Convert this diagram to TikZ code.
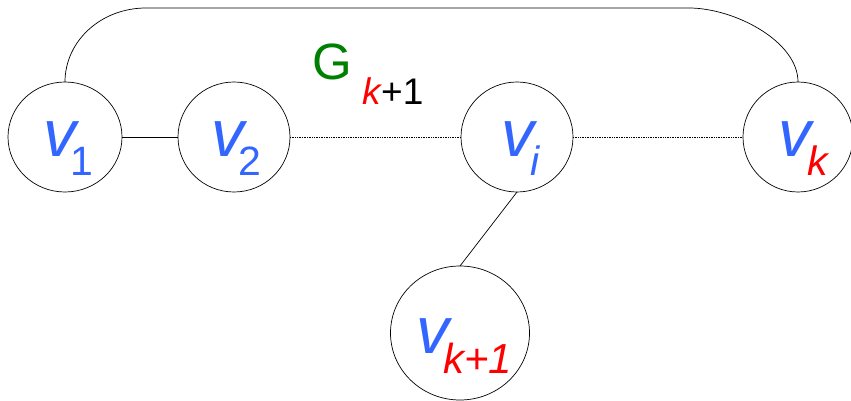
\documentclass[tikz,border=0pt]{standalone}
\usepackage{fontspec}
\setmainfont{Liberation Sans}
\usetikzlibrary{shapes.geometric}
\definecolor{vblue}{RGB}{51,102,255}
\definecolor{vred}{RGB}{255,0,0}
\definecolor{ggreen}{RGB}{0,128,0}
\newcommand{\bigv}{{\fontsize{66}{66}\selectfont\itshape v}}
\newcommand{\subtx}[1]{\raisebox{-19pt}{\fontsize{41}{41}\selectfont #1}}
\begin{document}
\begin{tikzpicture}[x=1pt,y=-1pt,
  vert/.style={ellipse,draw,line width=0.7pt,inner sep=0pt,outer sep=0pt},
  edge/.style={line width=0.7pt},
  dotedge/.style={line width=0.7pt,densely dotted},
  lab/.style={anchor=base west,inner sep=0pt,outer sep=0pt,text=vblue}]
\useasboundingbox (0,0) rectangle (851,401);
\node[vert,minimum width=114pt,minimum height=110pt] (v1) at (65,137) {};
\node[vert,minimum width=112pt,minimum height=110pt] (v2) at (234,137) {};
\node[vert,minimum width=112pt,minimum height=110pt] (vi) at (517,137) {};
\node[vert,minimum width=110pt,minimum height=110pt] (vk) at (798,137) {};
\node[vert,minimum width=139pt,minimum height=134pt] (vk1) at (460,333) {};
\coordinate (tl) at (146,8);
\coordinate (tr) at (689,8);
\draw[edge] (v1.north) .. controls (65,41) and (101,8) .. (tl) -- (tr) .. controls (734,8) and (798,41) .. (vk.north);
\draw[edge] (v1.east) -- (v2.west);
\draw[dotedge] (v2.east) -- (vi.west);
\draw[dotedge] (vi.east) -- (vk.west);
\draw[edge] (vi.south) -- (vk1.north);
\node[lab] (t1) at (43,157) {\bigv\kern-6pt\subtx{1}};
\node[lab] (t2) at (211,157) {\bigv\kern-6pt\subtx{2}};
\node[lab] (ti) at (501,157) {\bigv\kern-4pt\subtx{\itshape i}};
\node[lab] (tk) at (778,157) {\bigv\kern-4pt\subtx{\color{vred}\itshape k}};
\node[lab] (tk1) at (416,353) {\bigv\kern-6pt\raisebox{-20pt}{\fontsize{42}{42}\selectfont\color{vred}\itshape k+1}};
\node[anchor=base west,inner sep=0pt,outer sep=0pt] (g) at (312,80) {\textcolor{ggreen}{\fontsize{51}{51}\selectfont G}\kern11pt\raisebox{-25pt}{\fontsize{37}{37}\selectfont\textcolor{vred}{\itshape k}+1}};
\end{tikzpicture}
\end{document}
